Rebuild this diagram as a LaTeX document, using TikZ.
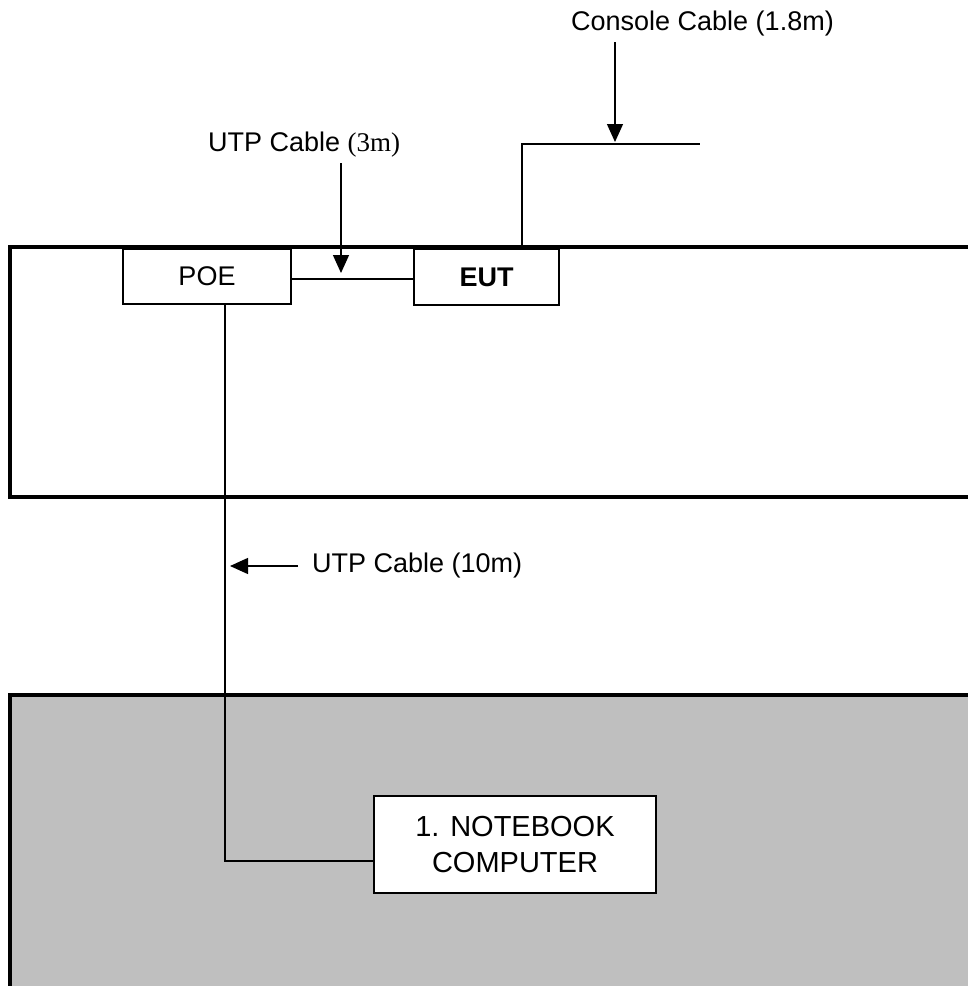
\documentclass[tikz,border=0pt]{standalone}
\usepackage{fontspec}
\setmainfont{Liberation Sans}
\newfontfamily\timesfont{Liberation Serif}
\usetikzlibrary{arrows.meta}
\begin{document}
\begin{tikzpicture}[x=1pt,y=-1pt,
  cable/.style={line width=1.3pt},
  frame/.style={line width=3.5pt},
  dev/.style={draw, line width=1.3pt, fill=white, inner sep=0pt, font=\fontsize{27}{32}\selectfont},
  lbl/.style={inner sep=0pt, font=\fontsize{27}{32}\selectfont},
  arr/.style={line width=1.3pt, -{Triangle[width=16pt,length=18pt]}}]
\useasboundingbox (0,0) rectangle (968,986);
\clip (0,0) rectangle (968,986);
\fill[white] (0,0) rectangle (968,986);
% rooms
\draw[frame] (10,247) rectangle (990,497);
\draw[frame, fill=black!25] (10,695) rectangle (990,1010);
% devices
\node[dev, minimum width=168pt, minimum height=55pt] (poe) at (207,276.5) {POE};
\node[dev, minimum width=145pt, minimum height=56pt, font=\fontsize{27}{32}\selectfont\bfseries] (eut) at (486.5,277) {EUT};
\node[dev, minimum width=282pt, minimum height=97pt, align=center, font=\fontsize{29}{36}\selectfont] (nb) at (515,844.5) {1. NOTEBOOK\\COMPUTER};
% cables
\coordinate (l3) at (300,279);
\draw[cable] (poe.east |- l3) -- (eut.west |- l3);
\coordinate (conbend) at (522,144);
\coordinate (conend) at (700,144);
\draw[cable] (eut.north -| conbend) -- (conbend) -- (conend);
\coordinate (bend) at (225,861);
\draw[cable] (poe.south -| bend) -- (bend) -- (nb.west |- bend);
% labels and pointers
\node[lbl, anchor=west] (con) at (571,24) {Console Cable (1.8m)};
\coordinate (contail) at (615,42);
\coordinate (contip) at (615,142);
\draw[arr] (contail) -- (contip);
\node[lbl, anchor=west] (utp3) at (208,145) {UTP Cable {\timesfont (3m)}};
\coordinate (u3tail) at (341,163);
\coordinate (u3tip) at (341,273);
\draw[arr] (u3tail) -- (u3tip);
\node[lbl, anchor=west] (utp10) at (312,566) {UTP Cable (10m)};
\coordinate (u10tail) at (298,566);
\coordinate (u10tip) at (230,566);
\draw[arr] (u10tail) -- (u10tip);
\end{tikzpicture}
\end{document}
